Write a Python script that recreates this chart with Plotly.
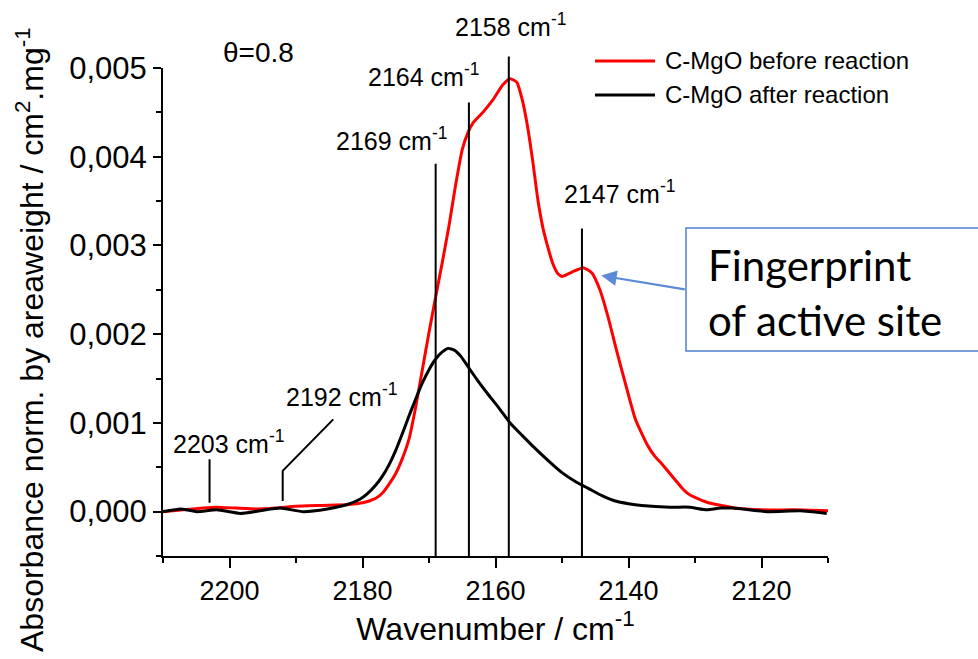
import plotly.graph_objects as go

# IR spectra of CO adsorbed on C-MgO (theta = 0.8)
wn_before = [2210, 2207, 2204, 2202, 2199, 2196, 2193, 2190, 2186, 2182, 2180, 2179, 2178,
             2177, 2176, 2175, 2174, 2173, 2172, 2171, 2170, 2169, 2168, 2167, 2166, 2165,
             2164.1, 2163.4, 2161.9, 2160.4, 2158.9, 2157.8, 2156.8, 2156.0, 2155.2, 2154.4,
             2153.6, 2152.9, 2152.2, 2151.4, 2150.6, 2150.0, 2148.5, 2146.8, 2145.5, 2144.3,
             2143.1, 2141.7, 2140.2, 2139, 2138, 2137, 2136, 2135, 2134, 2133, 2132, 2131,
             2130, 2128, 2126, 2124, 2120, 2115, 2110]
abs_before = [0.0, 0.00002, 0.00004, 0.00005, 0.00004, 0.00003, 0.00004, 0.00006, 0.00007,
              0.00008, 0.00010, 0.00012, 0.00015, 0.00021, 0.00031, 0.00043, 0.00060,
              0.00082, 0.00118, 0.00160, 0.00202, 0.00242, 0.00281, 0.00322, 0.00368,
              0.00408, 0.00428, 0.00438, 0.00450, 0.00464, 0.00481, 0.00488, 0.00484,
              0.00465, 0.00435, 0.00395, 0.00350, 0.00321, 0.00300, 0.00280, 0.00268,
              0.00265, 0.00270, 0.00275, 0.00269, 0.00250, 0.00220, 0.00179, 0.00137,
              0.00105, 0.00088, 0.00073, 0.00062, 0.00054, 0.00045, 0.00036, 0.00027,
              0.00020, 0.00016, 0.00010, 0.00007, 0.00004, 0.00002, 0.00002, 0.00001]

wn_after = [2210, 2207.4, 2204.9, 2201.9, 2198.4, 2195.4, 2192.4, 2188.9, 2185.3, 2182.3,
            2180.4, 2179.3, 2178, 2177, 2176, 2175, 2174, 2173, 2172, 2171, 2170, 2169,
            2168, 2167.1, 2166.2, 2165.2, 2164.1, 2162.7, 2161.3, 2159.5, 2157.8, 2156,
            2154, 2152, 2150, 2148, 2146, 2144, 2142, 2140, 2138, 2133.8, 2130.8, 2128.2,
            2126.2, 2124.3, 2119.2, 2114.2, 2110.2]
abs_after = [0.0, 0.00003, 0.0, 0.00002, -0.00002, 0.00001, 0.00004, 0.0, 0.00003, 0.00008,
             0.00014, 0.00020, 0.00030, 0.00040, 0.00053, 0.00069, 0.00088, 0.00108,
             0.00127, 0.00145, 0.00160, 0.00172, 0.00180, 0.00184, 0.00182, 0.00175,
             0.00163, 0.00148, 0.00134, 0.00117, 0.00100, 0.00086, 0.00071, 0.00057,
             0.00044, 0.00034, 0.00026, 0.00018, 0.00012, 0.00009, 0.00007, 0.00005,
             0.00005, 0.00002, 0.00004, 0.00004, 0.0, 0.00001, -0.00002]

# Marked band positions and the height each marker line reaches
band_pos = [2169, 2164, 2158, 2147]
band_top = [0.00392, 0.00461, 0.00513, 0.00319]
band_label_x = [2175.6, 2170.8, 2157.7, 2141.3]
band_label_y = [0.00420, 0.00492, 0.00549, 0.00360]

# Weak bands with short pointers
weak_pos = [2203, 2192]
weak_label_x = [2200.1, 2183.2]
weak_label_y = [0.00079, 0.00131]

series_names = ["C-MgO before reaction", "C-MgO after reaction"]
series_colors = ["#ff0000", "#000000"]

X_RANGE = [2210, 2110]
Y_MIN, Y_MAX = -0.0005, 0.005
Y_TICKS = [0.000, 0.001, 0.002, 0.003, 0.004, 0.005]
X_TICKS = [2200, 2180, 2160, 2140, 2120]

# Plot area in pixels (figure is 978 x 659)
L, R, T, B = 163, 150, 68, 103
PW, PH = 978 - L - R, 659 - T - B


def yp(v):
    """Convert an absorbance value to a paper fraction of the plot height."""
    return (v - Y_MIN) / (Y_MAX - Y_MIN)


def px_x(p):
    return (p - L) / PW


def px_y(p):
    return (659 - B - p) / PH


FONT = "Liberation Sans, Arial, sans-serif"

fig = go.Figure()
for wn, ab, name, col in [(wn_before, abs_before, series_names[0], series_colors[0]),
                          (wn_after, abs_after, series_names[1], series_colors[1])]:
    fig.add_trace(go.Scatter(x=wn, y=ab, mode="lines", name=name, showlegend=False,
                             line=dict(color=col, width=3, shape="spline", smoothing=0.5)))

# 2192 pointer: vertical stub then a diagonal leader to its label
fig.add_trace(go.Scatter(x=[weak_pos[1], weak_pos[1], 2184.4], y=[0.00012, 0.00046, 0.00104],
                         mode="lines", line=dict(color="black", width=2), showlegend=False,
                         hoverinfo="skip"))
# 2203 pointer
fig.add_trace(go.Scatter(x=[weak_pos[0], weak_pos[0]], y=[0.00010, 0.00059],
                         mode="lines", line=dict(color="black", width=2), showlegend=False,
                         hoverinfo="skip"))

shapes = []
for pos, top in zip(band_pos, band_top):
    shapes.append(dict(type="line", xref="x", yref="paper", x0=pos, x1=pos,
                       y0=0, y1=yp(top), line=dict(color="black", width=2)))

# Box around the callout text (runs off the right edge)
shapes.append(dict(type="rect", xref="paper", yref="paper",
                   x0=px_x(686), x1=px_x(1060), y0=px_y(351), y1=px_y(228),
                   line=dict(color="#4f7fcf", width=1.5), fillcolor="white", layer="above"))

annotations = []

# Legend: line samples with labels
for i, (name, col) in enumerate(zip(series_names, series_colors)):
    ypix = 61 + 34 * i
    shapes.append(dict(type="line", xref="paper", yref="paper",
                       x0=px_x(595), x1=px_x(655), y0=px_y(ypix), y1=px_y(ypix),
                       line=dict(color=col, width=3)))
    annotations.append(dict(x=px_x(663), y=px_y(ypix), xref="paper", yref="paper",
                            xanchor="left", yanchor="middle", showarrow=False, text=name,
                            font=dict(family=FONT, size=24, color="black")))

label_font = dict(family=FONT, size=25, color="black")
for lx, ly, pos in zip(band_label_x, band_label_y, band_pos):
    annotations.append(dict(x=lx, y=yp(ly), xref="x", yref="paper", showarrow=False,
                            xanchor="center", yanchor="middle",
                            text=f"{pos} cm<sup>-1</sup>", font=label_font))
for lx, ly, pos in zip(weak_label_x, weak_label_y, weak_pos):
    annotations.append(dict(x=lx, y=yp(ly), xref="x", yref="paper", showarrow=False,
                            xanchor="center", yanchor="middle",
                            text=f"{pos} cm<sup>-1</sup>", font=label_font))
annotations.append(dict(x=2195.7, y=yp(0.00518), xref="x", yref="paper", showarrow=False,
                        xanchor="center", yanchor="middle",
                        text="\u03b8=0.8", font=dict(family=FONT, size=28, color="black")))

# Callout arrow pointing at the 2147 shoulder
annotations.append(dict(x=2144.1, y=0.00266, xref="x", yref="y", ax=85, ay=14,
                        axref="pixel", ayref="pixel", showarrow=True, text="",
                        arrowhead=2, arrowsize=1.4, arrowwidth=2.2, arrowcolor="#5b8bd8"))
annotations.append(dict(x=px_x(706), y=px_y(292), xref="paper", yref="paper",
                        xanchor="left", yanchor="middle", align="left", showarrow=False,
                        text="Fingerprint<br>of active site",
                        font=dict(family="Lato, sans-serif", size=42, color="black")))

# Y axis title
annotations.append(dict(x=px_x(30), y=px_y(340), xref="paper", yref="paper", showarrow=False,
                        xanchor="center", yanchor="middle", textangle=-90,
                        text="Absorbance norm. by areaweight / cm<sup>2</sup>.mg<sup>-1</sup>",
                        font=dict(family=FONT, size=32, color="black")))

fig.update_layout(
    width=978, height=659,
    margin=dict(l=L, r=R, t=T, b=B),
    paper_bgcolor="white", plot_bgcolor="white",
    separators=", ",
    font=dict(family=FONT, color="black"),
    shapes=shapes, annotations=annotations,
    showlegend=False,
)
fig.update_xaxes(
    range=X_RANGE, tickvals=X_TICKS, showgrid=False, zeroline=False,
    showline=True, linecolor="black", linewidth=2, mirror=False,
    ticks="outside", ticklen=10, tickwidth=2, tickcolor="black",
    tickfont=dict(family=FONT, size=27, color="black"),
    minor=dict(dtick=10, tick0=2110, ticks="outside", ticklen=5, tickwidth=2, tickcolor="black"),
    title=dict(text="Wavenumber / cm<sup>-1</sup>", font=dict(family=FONT, size=32, color="black"),
               standoff=10),
)
fig.update_yaxes(
    range=[Y_MIN, Y_MAX], tickvals=Y_TICKS, tickformat=".3f", showgrid=False, zeroline=False,
    showline=True, linecolor="black", linewidth=2, mirror=False,
    ticks="outside", ticklen=8, tickwidth=2, tickcolor="black",
    tickfont=dict(family=FONT, size=31, color="black"),
    minor=dict(dtick=0.0005, tick0=0, ticks="outside", ticklen=5, tickwidth=2, tickcolor="black"),
)

fig.write_html("out.html")
